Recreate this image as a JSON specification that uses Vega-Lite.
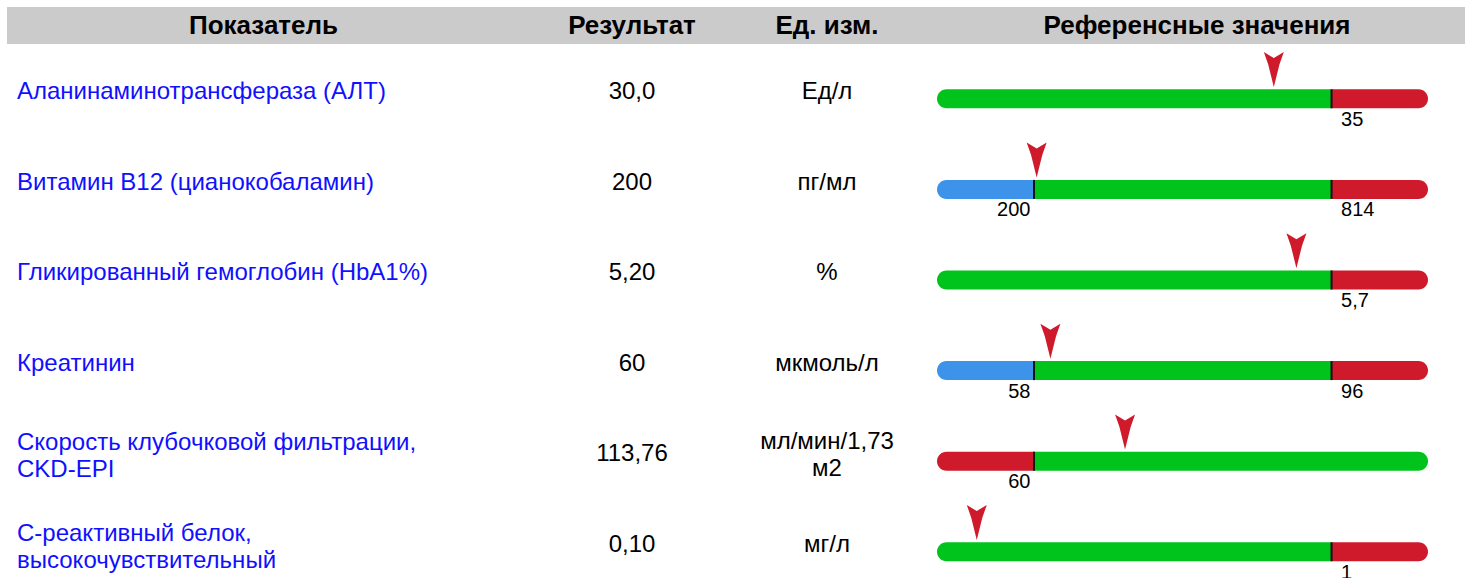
{
  "$schema": "https://vega.github.io/schema/vega-lite/v6.json",
  "padding": {"left": 7, "top": 7, "right": 0, "bottom": 0},
  "background": "white",
  "config": {"view": {"stroke": null}, "font": "Liberation Sans", "concat": {"spacing": 0}},
  "datasets": {
    "rows": [
      {"name": "Аланинаминотрансфераза (АЛТ)", "label": "Аланинаминотрансфераза (АЛТ)", "result": "30,0", "unit": "Ед/л", "pct": 68.6},
      {"name": "Витамин B12 (цианокобаламин)", "label": "Витамин B12 (цианокобаламин)", "result": "200", "unit": "пг/мл", "pct": 20.3},
      {"name": "Гликированный гемоглобин (HbA1%)", "label": "Гликированный гемоглобин (HbA1%)", "result": "5,20", "unit": "%", "pct": 73.2},
      {"name": "Креатинин", "label": "Креатинин", "result": "60", "unit": "мкмоль/л", "pct": 23.1},
      {"name": "Скорость клубочковой фильтрации, CKD-EPI", "label": "Скорость клубочковой фильтрации,\nCKD-EPI", "result": "113,76", "unit": "мл/мин/1,73\nм2", "pct": 38.3},
      {"name": "С-реактивный белок, высокочувствительный", "label": "С-реактивный белок,\nвысокочувствительный", "result": "0,10", "unit": "мг/л", "pct": 8.1}
    ],
    "segments": [
      {"name": "Аланинаминотрансфераза (АЛТ)", "status": "ok", "from": 0, "to": 80.35},
      {"name": "Аланинаминотрансфераза (АЛТ)", "status": "bad", "from": 80.35, "to": 100},
      {"name": "Витамин B12 (цианокобаламин)", "status": "low", "from": 0, "to": 19.75},
      {"name": "Витамин B12 (цианокобаламин)", "status": "ok", "from": 19.75, "to": 80.35},
      {"name": "Витамин B12 (цианокобаламин)", "status": "bad", "from": 80.35, "to": 100},
      {"name": "Гликированный гемоглобин (HbA1%)", "status": "ok", "from": 0, "to": 80.35},
      {"name": "Гликированный гемоглобин (HbA1%)", "status": "bad", "from": 80.35, "to": 100},
      {"name": "Креатинин", "status": "low", "from": 0, "to": 19.75},
      {"name": "Креатинин", "status": "ok", "from": 19.75, "to": 80.35},
      {"name": "Креатинин", "status": "bad", "from": 80.35, "to": 100},
      {"name": "Скорость клубочковой фильтрации, CKD-EPI", "status": "bad", "from": 0, "to": 19.75},
      {"name": "Скорость клубочковой фильтрации, CKD-EPI", "status": "ok", "from": 19.75, "to": 100},
      {"name": "С-реактивный белок, высокочувствительный", "status": "ok", "from": 0, "to": 80.35},
      {"name": "С-реактивный белок, высокочувствительный", "status": "bad", "from": 80.35, "to": 100}
    ],
    "thresholds": [
      {"name": "Аланинаминотрансфераза (АЛТ)", "kind": "high", "value": "35", "pct": 80.35},
      {"name": "Витамин B12 (цианокобаламин)", "kind": "low", "value": "200", "pct": 19.75},
      {"name": "Витамин B12 (цианокобаламин)", "kind": "high", "value": "814", "pct": 80.35},
      {"name": "Гликированный гемоглобин (HbA1%)", "kind": "high", "value": "5,7", "pct": 80.35},
      {"name": "Креатинин", "kind": "low", "value": "58", "pct": 19.75},
      {"name": "Креатинин", "kind": "high", "value": "96", "pct": 80.35},
      {"name": "Скорость клубочковой фильтрации, CKD-EPI", "kind": "low", "value": "60", "pct": 19.75},
      {"name": "С-реактивный белок, высокочувствительный", "kind": "high", "value": "1", "pct": 80.35}
    ]
  },
  "vconcat": [
    {
      "spacing": 0,
      "hconcat": [
        {"width": 513, "height": 37, "view": {"fill": "#cbcbcb", "stroke": null},
         "data": {"values": [{"h": "Показатель"}]},
         "mark": {"type": "text", "fontSize": 26, "fontWeight": "bold", "color": "#000000", "baseline": "middle"},
         "encoding": {"text": {"field": "h"}}},
        {"width": 224, "height": 37, "view": {"fill": "#cbcbcb", "stroke": null},
         "data": {"values": [{"h": "Результат"}]},
         "mark": {"type": "text", "fontSize": 26, "fontWeight": "bold", "color": "#000000", "baseline": "middle"},
         "encoding": {"text": {"field": "h"}}},
        {"width": 166, "height": 37, "view": {"fill": "#cbcbcb", "stroke": null},
         "data": {"values": [{"h": "Ед. изм."}]},
         "mark": {"type": "text", "fontSize": 26, "fontWeight": "bold", "color": "#000000", "baseline": "middle"},
         "encoding": {"text": {"field": "h"}}},
        {"width": 555, "height": 37, "view": {"fill": "#cbcbcb", "stroke": null},
         "data": {"values": [{"h": "Референсные значения"}]},
         "mark": {"type": "text", "fontSize": 26, "fontWeight": "bold", "color": "#000000", "baseline": "middle", "dx": 9.5},
         "encoding": {"text": {"field": "h"}}}
      ]
    },
    {
      "spacing": 0,
      "hconcat": [
        {"width": 513, "height": 534,
         "data": {"name": "rows"},
         "encoding": {
           "x": {"value": 10},
           "y": {"field": "name", "type": "nominal", "axis": null,
                 "scale": {"domain": ["Аланинаминотрансфераза (АЛТ)", "Витамин B12 (цианокобаламин)", "Гликированный гемоглобин (HbA1%)", "Креатинин", "Скорость клубочковой фильтрации, CKD-EPI", "С-реактивный белок, высокочувствительный"], "range": [2.7, 546.3], "paddingInner": 0, "paddingOuter": 0}},
           "text": {"field": "label"}
         },
         "layer": [
           {"transform": [{"filter": "indexof(datum.label, '\\n') < 0"}],
            "mark": {"type": "text", "align": "left", "baseline": "middle", "fontSize": 24, "color": "#1010ff"}},
           {"transform": [{"filter": "indexof(datum.label, '\\n') >= 0"}],
            "mark": {"type": "text", "align": "left", "baseline": "middle", "fontSize": 24, "color": "#1010ff", "lineBreak": "\n", "lineHeight": 27.5, "dy": -11.5}}
         ]},
        {"width": 224, "height": 534,
         "data": {"name": "rows"},
         "mark": {"type": "text", "baseline": "middle", "fontSize": 24, "color": "#000000"},
         "encoding": {
           "y": {"field": "name", "type": "nominal", "axis": null,
                 "scale": {"domain": ["Аланинаминотрансфераза (АЛТ)", "Витамин B12 (цианокобаламин)", "Гликированный гемоглобин (HbA1%)", "Креатинин", "Скорость клубочковой фильтрации, CKD-EPI", "С-реактивный белок, высокочувствительный"], "range": [2.7, 546.3], "paddingInner": 0, "paddingOuter": 0}},
           "text": {"field": "result"}
         }},
        {"width": 166, "height": 534,
         "data": {"name": "rows"},
         "encoding": {
           "y": {"field": "name", "type": "nominal", "axis": null,
                 "scale": {"domain": ["Аланинаминотрансфераза (АЛТ)", "Витамин B12 (цианокобаламин)", "Гликированный гемоглобин (HbA1%)", "Креатинин", "Скорость клубочковой фильтрации, CKD-EPI", "С-реактивный белок, высокочувствительный"], "range": [2.7, 546.3], "paddingInner": 0, "paddingOuter": 0}},
           "text": {"field": "unit"}
         },
         "layer": [
           {"transform": [{"filter": "indexof(datum.unit, '\\n') < 0"}],
            "mark": {"type": "text", "baseline": "middle", "fontSize": 24, "color": "#000000"}},
           {"transform": [{"filter": "indexof(datum.unit, '\\n') >= 0"}],
            "mark": {"type": "text", "baseline": "middle", "fontSize": 24, "color": "#000000", "lineBreak": "\n", "lineHeight": 27.5, "dy": -12.5}}
         ]},
        {"width": 555, "height": 534,
         "encoding": {
           "y": {"field": "name", "type": "nominal", "axis": null,
                 "scale": {"domain": ["Аланинаминотрансфераза (АЛТ)", "Витамин B12 (цианокобаламин)", "Гликированный гемоглобин (HbA1%)", "Креатинин", "Скорость клубочковой фильтрации, CKD-EPI", "С-реактивный белок, высокочувствительный"], "range": [9.5, 553.1], "paddingInner": 0, "paddingOuter": 0}}
         },
         "layer": [
           {"data": {"name": "segments"},
            "transform": [{"filter": "datum.from == 0"}],
            "mark": {"type": "bar", "height": 19, "cornerRadiusTopLeft": 9.5, "cornerRadiusBottomLeft": 9.5},
            "encoding": {
              "x": {"field": "from", "type": "quantitative", "axis": null, "scale": {"domain": [0, 100], "range": [27, 518], "zero": false, "nice": false}},
              "x2": {"field": "to"},
              "color": {"field": "status", "type": "nominal", "legend": null, "scale": {"domain": ["low", "ok", "bad"], "range": ["#3d92ea", "#00c31b", "#cf1a2c"]}}
            }},
           {"data": {"name": "segments"},
            "transform": [{"filter": "datum.to == 100"}],
            "mark": {"type": "bar", "height": 19, "cornerRadiusTopRight": 9.5, "cornerRadiusBottomRight": 9.5},
            "encoding": {
              "x": {"field": "from", "type": "quantitative", "axis": null, "scale": {"domain": [0, 100], "range": [27, 518], "zero": false, "nice": false}},
              "x2": {"field": "to"},
              "color": {"field": "status", "type": "nominal", "legend": null, "scale": {"domain": ["low", "ok", "bad"], "range": ["#3d92ea", "#00c31b", "#cf1a2c"]}}
            }},
           {"data": {"name": "segments"},
            "transform": [{"filter": "datum.from > 0 && datum.to < 100"}],
            "mark": {"type": "bar", "height": 19},
            "encoding": {
              "x": {"field": "from", "type": "quantitative", "axis": null, "scale": {"domain": [0, 100], "range": [27, 518], "zero": false, "nice": false}},
              "x2": {"field": "to"},
              "color": {"field": "status", "type": "nominal", "legend": null, "scale": {"domain": ["low", "ok", "bad"], "range": ["#3d92ea", "#00c31b", "#cf1a2c"]}}
            }},
           {"data": {"name": "thresholds"},
            "mark": {"type": "tick", "thickness": 2, "size": 19, "color": "#111111", "opacity": 1},
            "encoding": {
              "x": {"field": "pct", "type": "quantitative", "axis": null, "scale": {"domain": [0, 100], "range": [27, 518], "zero": false, "nice": false}}
            }},
           {"data": {"name": "thresholds"},
            "transform": [{"filter": "datum.kind == 'low'"}],
            "mark": {"type": "text", "align": "right", "baseline": "middle", "dx": -3.5, "dy": 21, "fontSize": 20, "color": "#000000"},
            "encoding": {
              "x": {"field": "pct", "type": "quantitative", "axis": null, "scale": {"domain": [0, 100], "range": [27, 518], "zero": false, "nice": false}},
              "text": {"field": "value"}
            }},
           {"data": {"name": "thresholds"},
            "transform": [{"filter": "datum.kind == 'high'"}],
            "mark": {"type": "text", "align": "left", "baseline": "middle", "dx": 9.5, "dy": 21, "fontSize": 20, "color": "#000000"},
            "encoding": {
              "x": {"field": "pct", "type": "quantitative", "axis": null, "scale": {"domain": [0, 100], "range": [27, 518], "zero": false, "nice": false}},
              "text": {"field": "value"}
            }},
           {"data": {"name": "rows"},
            "mark": {"type": "point", "filled": true, "opacity": 1, "size": 1225, "color": "#cf1a2c", "strokeWidth": 0,
                     "shape": "M-0.571,-2.674L0,-2.331L0.571,-2.674L0.32,-1.96L0,-0.674L-0.32,-1.96Z"},
            "encoding": {
              "x": {"field": "pct", "type": "quantitative", "axis": null, "scale": {"domain": [0, 100], "range": [27, 518], "zero": false, "nice": false}}
            }}
         ]}
      ]
    }
  ],
  "spacing": 0
}
